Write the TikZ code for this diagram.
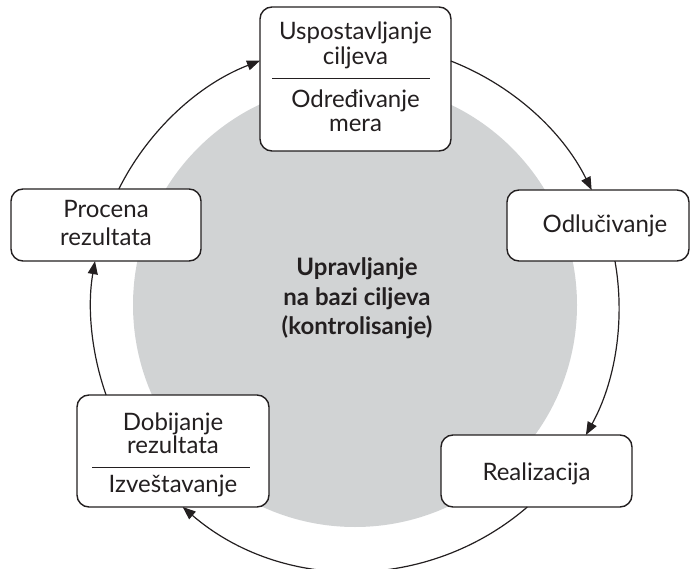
\documentclass[tikz,border=0pt]{standalone}
\usepackage{fontspec}
\setmainfont{Lato}
\usetikzlibrary{arrows.meta}
\definecolor{ink}{HTML}{231F20}
\definecolor{disc}{HTML}{D1D3D4}
\begin{document}
\begin{tikzpicture}[x=1pt,y=1pt,
  box/.style={draw=ink, line width=1.4pt, rounded corners=12pt, fill=white, inner sep=0pt},
  txt/.style={font=\fontsize{24}{27}\selectfont, text=ink, inner sep=0pt, anchor=base},
  hub/.style={font=\fontsize{24}{29}\selectfont\bfseries, text=ink, inner sep=0pt, anchor=base},
  cyc/.style={draw=ink, line width=1.2pt, -{Triangle[length=13pt,width=10pt]}},
  divider/.style={draw=ink, line width=1pt}]
\useasboundingbox (0,0) rectangle (690,-569);

% grey disc behind the cycle
\coordinate (disccentre) at (355,-305);
\fill[disc] (disccentre) circle[radius=222pt];

% centre of the ring of arrows
\coordinate (o) at (355,-307);

% boxes
\node[box, minimum width=191pt, minimum height=144pt] (goal) at (355.5,-79) {};
\node[box, minimum width=182pt, minimum height=71pt] (decide) at (598,-225.5) {};
\node[box, minimum width=191pt, minimum height=72pt] (realize) at (536.5,-471) {};
\node[box, minimum width=192pt, minimum height=112pt] (result) at (173,-451) {};
\node[box, minimum width=190pt, minimum height=72pt] (assess) at (106,-225) {};

% dividers inside the two-part boxes
\draw[divider] (goal.west) ++(13,0) -- ++(158,0);
\draw[divider] (result.west) ++(16,-16) -- ++(158,0);

% texts
\node[txt] (goalA) at (355.5,-40) {Uspostavljanje};
\node[txt] (goalB) at (355.5,-65) {ciljeva};
\node[txt] (goalC) at (355.5,-108) {Određivanje};
\node[txt] (goalD) at (355.5,-132) {mera};
\node[txt] (decideA) at (605,-233) {Odlučivanje};
\node[txt] (realizeA) at (536.5,-480) {Realizacija};
\node[txt] (resultA) at (173,-430) {Dobijanje};
\node[txt] (resultB) at (173,-453) {rezultata};
\node[txt] (resultC) at (173,-492) {Izveštavanje};
\node[txt] (assessA) at (106,-218) {Procena};
\node[txt] (assessB) at (106,-245) {rezultata};

\node[hub] (hubA) at (357,-275) {Upravljanje};
\node[hub] (hubB) at (357,-305) {na bazi ciljeva};
\node[hub] (hubC) at (357,-334) {(kontrolisanje)};

% cycle arrows along a circle of radius 264
\draw[cyc] ([shift={(153.45:264pt)}]o) arc[start angle=153.45, end angle=111.1, radius=264pt];
\draw[cyc] ([shift={(68.7:264pt)}]o) arc[start angle=68.7, end angle=26.3, radius=264pt];
\draw[cyc] ([shift={(10.0:264pt)}]o) arc[start angle=10.0, end angle=-29.0, radius=264pt];
\draw[cyc] ([shift={(-49.25:264pt)}]o) arc[start angle=-49.25, end angle=-130.75, radius=264pt];
\draw[cyc] ([shift={(199.47:264pt)}]o) arc[start angle=199.47, end angle=170.0, radius=264pt];
\end{tikzpicture}
\end{document}
